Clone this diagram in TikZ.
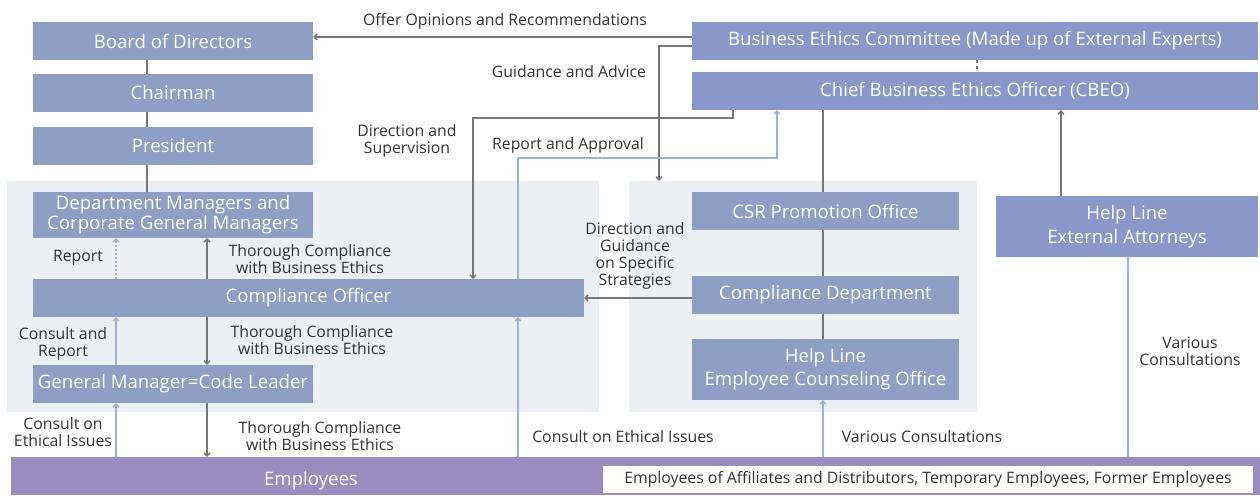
\documentclass[tikz,border=0pt]{standalone}
\usepackage{fontspec}
\setmainfont{Open Sans}
\usetikzlibrary{arrows.meta}
\definecolor{boxA}{HTML}{8D9FC3}
\definecolor{boxB}{HTML}{8898CA}
\definecolor{empC}{HTML}{9A8DBE}
\definecolor{panelC}{HTML}{ECEFF3}
\definecolor{lineG}{HTML}{767676}
\definecolor{lineB}{HTML}{9DB2D2}
\definecolor{txtC}{HTML}{333333}
\newcommand{\boxfont}{\fontsize{18.6}{20}\selectfont}
\newcommand{\labfont}{\fontsize{15.8}{17}\selectfont}
\begin{document}
\begin{tikzpicture}[x=1pt,y=-1pt,
  boxa/.style={fill=boxA, text=white, inner sep=0pt, font=\boxfont, align=center},
  boxb/.style={fill=boxB, text=white, inner sep=0pt, font=\boxfont, align=center},
  panel/.style={fill=panelC, inner sep=0pt},
  lab/.style={text=txtC, font=\labfont, align=center, inner sep=0pt, yshift=-1.5pt},
  gl/.style={draw=lineG, line width=1.3pt},
  bl/.style={draw=lineB, line width=1.3pt},
  arr/.style={-{Straight Barb[length=3pt,width=6pt]}}
]
\useasboundingbox (0,0) rectangle (1260,495);
% panels
\node[panel, minimum width=592, minimum height=231] (lp) at (303,296.5) {};
\node[panel, minimum width=348, minimum height=231] (rp) at (803,296.5) {};
% boxes
\node[boxa, minimum width=280, minimum height=38] (board) at (173,41) {Board of Directors};
\node[boxa, minimum width=280, minimum height=38] (chair) at (173,93) {Chairman};
\node[boxa, minimum width=280, minimum height=38] (pres) at (173,146) {President};
\node[boxa, minimum width=280, minimum height=46] (dept) at (173,215) {Department Managers and\\Corporate General Managers};
\node[boxa, minimum width=551, minimum height=38] (co) at (308.5,298) {Compliance Officer};
\node[boxa, minimum width=280, minimum height=38] (gm) at (173,384) {General Manager=Code Leader};
\node[boxb, minimum width=566, minimum height=38] (bec) at (975,41) {Business Ethics Committee (Made up of External Experts)};
\node[boxb, minimum width=566, minimum height=38] (cbeo) at (975,91) {Chief Business Ethics Officer (CBEO)};
\node[boxa, minimum width=267, minimum height=38] (csr) at (825.5,211) {CSR Promotion Office};
\node[boxa, minimum width=267, minimum height=38] (cd) at (825.5,295) {Compliance Department};
\node[boxa, minimum width=267, minimum height=61, font=\fontsize{18.6}{23}\selectfont] (hleco) at (825.5,369.5) {Help Line\\Employee Counseling Office};
\node[boxb, minimum width=262, minimum height=61, font=\fontsize{18.6}{24}\selectfont] (hlea) at (1127,226.5) {Help Line\\External Attorneys};
\node[fill=empC, inner sep=0pt, minimum width=1249, minimum height=38] (emp) at (635.5,476) {};
\node[text=white, font=\boxfont, inner sep=0pt] (emptxt) at (311,480.5) {Employees};
\node[fill=white, inner sep=0pt, minimum width=650, minimum height=27, text=txtC, font=\fontsize{15.8}{17}\selectfont] (others) at (928,479.5) {Employees of Affiliates and Distributors, Temporary Employees, Former Employees};
% helper coordinates
\coordinate (xa) at (147,0);
\coordinate (xb) at (116,0);
\coordinate (xc) at (207,0);
\coordinate (xd) at (518,0);
\coordinate (xe) at (473,0);
\coordinate (xf) at (659,0);
\coordinate (xg) at (733,0);
\coordinate (xh) at (777,0);
\coordinate (xi) at (823,0);
\coordinate (xj) at (977,0);
\coordinate (xk) at (1061,0);
\coordinate (xl) at (1128,0);
\coordinate (yo) at (0,37);
\coordinate (yg) at (0,46);
\coordinate (yd) at (0,118);
\coordinate (yr) at (0,158);
% connectors
\draw[gl] (board.south -| xa) -- (chair.north -| xa);
\draw[gl] (chair.south -| xa) -- (pres.north -| xa);
\draw[gl] (pres.south -| xa) -- (dept.north -| xa);
\draw[gl,arr] (bec.west |- yo) -- (board.east |- yo);
\draw[gl,arr] (bec.west |- yg) -| (rp.north -| xf);
\draw[gl,arr] (cbeo.south -| xg) -- (xg |- yd) -| (co.north -| xe);
\draw[bl,arr] (co.north -| xd) -- (xd |- yr) -| (cbeo.south -| xh);
\draw[gl, dash pattern=on 3pt off 3pt] (bec.south -| xj) -- (cbeo.north -| xj);
\draw[gl] (cbeo.south -| xi) -- (csr.north -| xi);
\draw[gl] (csr.south -| xi) -- (cd.north -| xi);
\draw[gl] (cd.south -| xi) -- (hleco.north -| xi);
\draw[gl,arr] (hlea.north -| xk) -- (cbeo.south -| xk);
\draw[bl] (hlea.south -| xl) -- (emp.north -| xl);
\draw[bl,arr,dash pattern=on 2pt off 2pt] (co.north -| xb) -- (dept.south -| xb);
\draw[gl,arr] (co.north -| xc) -- (dept.south -| xc);
\draw[bl,arr] (gm.north -| xb) -- (co.south -| xb);
\draw[gl,arr] (co.south -| xc) -- (gm.north -| xc);
\draw[bl,arr] (emp.north -| xb) -- (gm.south -| xb);
\draw[gl,arr] (gm.south -| xc) -- (emp.north -| xc);
\draw[bl,arr] (emp.north -| xd) -- (co.south -| xd);
\draw[gl,arr] (cd.west |- co.east) -- (co.east);
\draw[bl,arr] (emp.north -| xi) -- (hleco.south -| xi);
% labels
\node[lab] (l1) at (505,20) {Offer Opinions and Recommendations};
\node[lab] (l2) at (569,70) {Guidance and Advice};
\node[lab] (l3) at (407,139) {Direction and\\Supervision};
\node[lab] (l4) at (568,144) {Report and Approval};
\node[lab] (l5) at (310,258) {Thorough Compliance\\with Business Ethics};
\node[lab] (l6) at (78,256) {Report};
\node[lab] (l7) at (63,342) {Consult and\\Report};
\node[lab] (l8) at (312,339) {Thorough Compliance\\with Business Ethics};
\node[lab] (l9) at (63,431) {Consult on\\Ethical Issues};
\node[lab] (l10) at (320,435) {Thorough Compliance\\with Business Ethics};
\node[lab] (l11) at (623,435) {Consult on Ethical Issues};
\node[lab] (l12) at (635,254) {Direction and\\Guidance\\on Specific\\Strategies};
\node[lab] (l13) at (922,435) {Various Consultations};
\node[lab] (l14) at (1190,350) {Various\\Consultations};
\end{tikzpicture}
\end{document}
